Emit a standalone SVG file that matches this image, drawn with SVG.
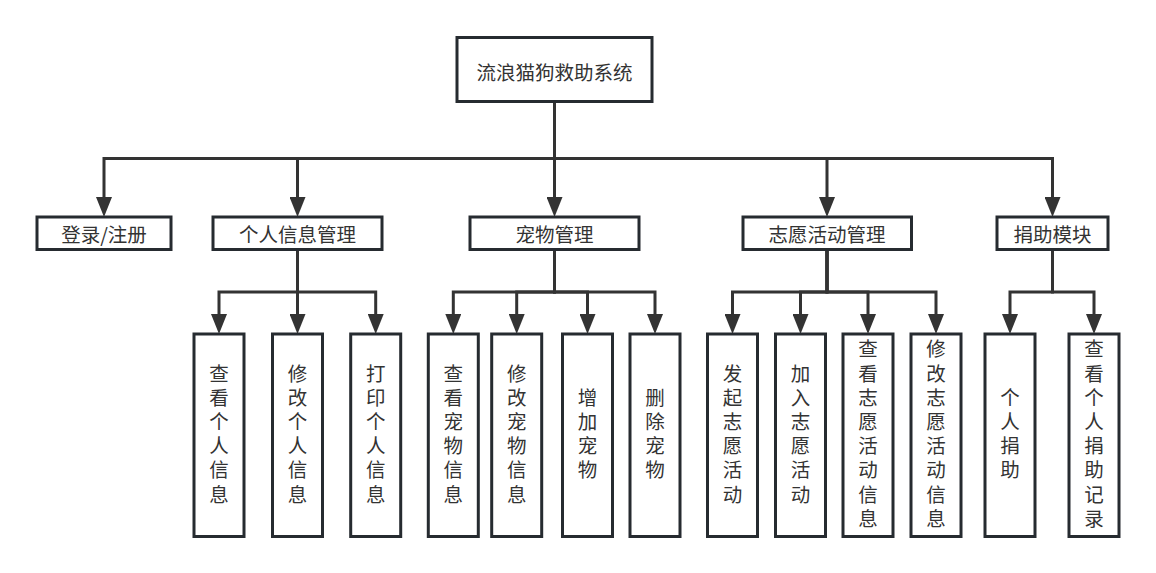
<svg xmlns="http://www.w3.org/2000/svg" width="1156" height="573" viewBox="0 0 1156 573">
<style>
.box{fill:#ffffff;stroke:#262b30;stroke-width:3}
.edge{fill:none;stroke:#333333;stroke-width:3;marker-end:url(#arr)}
.t{font-family:"Noto Sans CJK SC","Microsoft YaHei",sans-serif;font-size:19.5px;fill:#333333;text-anchor:middle;dominant-baseline:central}
.v{font-family:"Noto Sans CJK SC","Microsoft YaHei",sans-serif;font-size:19.5px;fill:#333333;text-anchor:middle;writing-mode:vertical-rl;text-orientation:upright;letter-spacing:4.7px}
</style>
<defs>
<marker id="arr" viewBox="0 0 20 16" markerUnits="userSpaceOnUse" markerWidth="20" markerHeight="16" refX="2" refY="8" orient="auto">
<path d="M0,0 L20,8 L0,16 Z" fill="#333333"/>
</marker>
</defs>
<rect width="1156" height="573" fill="#ffffff"/>
<g id="connectors">
<path class="edge" d="M554.5,101.5 V158.5 H104 V199"/>
<path class="edge" d="M554.5,101.5 V158.5 H297.5 V199"/>
<path class="edge" d="M554.5,101.5 V199"/>
<path class="edge" d="M554.5,101.5 V158.5 H827 V199"/>
<path class="edge" d="M554.5,101.5 V158.5 H1052.5 V199"/>
<path class="edge" d="M297.5,249 V292 H219 V316"/>
<path class="edge" d="M297.5,249 V316"/>
<path class="edge" d="M297.5,249 V292 H375.7 V316"/>
<path class="edge" d="M554.5,249 V292 H453.3 V316"/>
<path class="edge" d="M554.5,249 V292 H516.7 V316"/>
<path class="edge" d="M554.5,249 V292 H587.5 V316"/>
<path class="edge" d="M554.5,249 V292 H655 V316"/>
<path class="edge" d="M827,249 V292 H732.5 V316"/>
<path class="edge" d="M827,249 V292 H800.5 V316"/>
<path class="edge" d="M827,249 V292 H868 V316"/>
<path class="edge" d="M827,249 V292 H936 V316"/>
<path class="edge" d="M1052.5,249 V292 H1010 V316"/>
<path class="edge" d="M1052.5,249 V292 H1094 V316"/>
</g>
<g id="root"><rect class="box" x="457" y="37.5" width="195" height="64"/><text class="t" x="554.5" y="71.5">流浪猫狗救助系统</text></g>
<g id="login"><rect class="box" x="37" y="217" width="134" height="32.5"/><text class="t" x="104" y="233.5">登录/注册</text></g>
<g id="personal"><rect class="box" x="213" y="217" width="169" height="32.5"/><text class="t" x="297.5" y="233.5">个人信息管理</text></g>
<g id="pet"><rect class="box" x="470" y="217" width="169" height="32.5"/><text class="t" x="554.5" y="233.5">宠物管理</text></g>
<g id="volunteer"><rect class="box" x="743" y="217" width="168.5" height="32.5"/><text class="t" x="827" y="233.5">志愿活动管理</text></g>
<g id="donate"><rect class="box" x="997" y="217" width="111" height="32.5"/><text class="t" x="1052.5" y="233.5">捐助模块</text></g>
<g id="n1"><rect class="box" x="194" y="334" width="50" height="202.5"/><text class="v" x="219" y="436">查看个人信息</text></g>
<g id="n2"><rect class="box" x="272.5" y="334" width="50" height="202.5"/><text class="v" x="297.5" y="436">修改个人信息</text></g>
<g id="n3"><rect class="box" x="350.7" y="334" width="50" height="202.5"/><text class="v" x="375.7" y="436">打印个人信息</text></g>
<g id="n4"><rect class="box" x="428.3" y="334" width="50" height="202.5"/><text class="v" x="453.3" y="436">查看宠物信息</text></g>
<g id="n5"><rect class="box" x="491.7" y="334" width="50" height="202.5"/><text class="v" x="516.7" y="436">修改宠物信息</text></g>
<g id="n6"><rect class="box" x="562.5" y="334" width="50" height="202.5"/><text class="v" x="587.5" y="436">增加宠物</text></g>
<g id="n7"><rect class="box" x="630" y="334" width="50" height="202.5"/><text class="v" x="655" y="436">删除宠物</text></g>
<g id="n8"><rect class="box" x="707.5" y="334" width="50" height="202.5"/><text class="v" x="732.5" y="436">发起志愿活动</text></g>
<g id="n9"><rect class="box" x="775.5" y="334" width="50" height="202.5"/><text class="v" x="800.5" y="436">加入志愿活动</text></g>
<g id="n10"><rect class="box" x="843" y="334" width="50" height="202.5"/><text class="v" x="868" y="436">查看志愿活动信息</text></g>
<g id="n11"><rect class="box" x="911" y="334" width="50" height="202.5"/><text class="v" x="936" y="436">修改志愿活动信息</text></g>
<g id="n12"><rect class="box" x="985" y="334" width="50" height="202.5"/><text class="v" x="1010" y="436">个人捐助</text></g>
<g id="n13"><rect class="box" x="1069" y="334" width="50" height="202.5"/><text class="v" x="1094" y="436">查看个人捐助记录</text></g>
</svg>
